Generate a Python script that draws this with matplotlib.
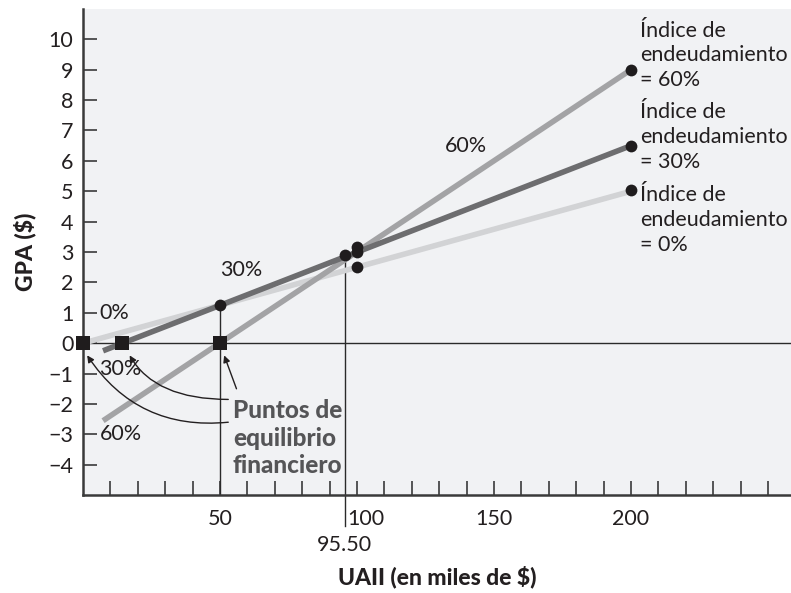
import matplotlib
matplotlib.use("Agg")
import matplotlib.pyplot as plt
import matplotlib.transforms as mtransforms

plt.rcParams['font.family'] = ['Lato', 'DejaVu Sans']

# ---- data ----
x_0 = [0, 200]
y_0 = [0, 5]
x_30 = [7.3, 200]
y_30 = [-0.25, 6.5]
x_60 = [7.3, 200]
y_60 = [-2.55, 9]

dot_x = [200, 200, 200, 50, 95.5, 100, 100, 100]
dot_y = [9, 6.5, 5.05, 1.25, 2.89, 3.15, 3.0, 2.5]

breakeven_x = [0, 14.3, 50]
breakeven_y = [0, 0, 0]

xtick_vals = list(range(10, 260, 10))
xtick_labels = {50: "50", 100: "100", 150: "150", 200: "200"}
ytick_vals = list(range(-4, 11))

ink = "#231f20"

fig = plt.figure(figsize=(7.91, 5.93), dpi=100)
ax = fig.add_axes([0.105, 0.165, 0.895, 0.82])
ax.set_facecolor("#f1f2f4")
ax.set_xlim(0, 258.4)
ax.set_ylim(-5, 11)

for s in ["top", "right"]:
    ax.spines[s].set_visible(False)
for s in ["left", "bottom"]:
    ax.spines[s].set_color("#3a3a3a")
    ax.spines[s].set_linewidth(1.8)

# zero line
ax.axhline(0, color="#2a2a2a", lw=1.0, zorder=2)

# vertical guides
ax.plot([50, 50], [1.25, -5], color="#2a2a2a", lw=1.0, zorder=2)
ax.plot([95.5, 95.5], [2.89, -6.0], color="#2a2a2a", lw=1.0, zorder=2, clip_on=False)

# lines
ax.plot(x_0, y_0, color="#d2d3d5", lw=4, solid_capstyle="butt", zorder=3)
ax.plot(x_60, y_60, color="#a3a3a5", lw=4, solid_capstyle="butt", zorder=3)
ax.plot(x_30, y_30, color="#6d6d6f", lw=4, solid_capstyle="butt", zorder=4)

ax.scatter(dot_x, dot_y, s=72, color="#1f1c1d", zorder=6, linewidths=0)
ax.scatter(breakeven_x, breakeven_y, s=95, marker="s", color="#1f1c1d", zorder=6,
           linewidths=0, clip_on=False)

fs = 15.5

# ticks
ax.set_xticks(xtick_vals)
ax.set_xticklabels([xtick_labels.get(v, "") for v in xtick_vals])
ax.set_yticks(ytick_vals)
ax.set_yticklabels([str(v).replace("-", "\u2212") for v in ytick_vals])
ax.tick_params(axis="both", direction="in", length=10, width=1.2, color="#3a3a3a",
               labelsize=fs, labelcolor=ink)
ax.tick_params(axis="x", pad=10)
ax.tick_params(axis="y", pad=7)

# shift "100" label a bit right (as in reference)
for lbl in ax.get_xticklabels():
    if lbl.get_text() == "100":
        lbl.set_transform(lbl.get_transform() +
                          mtransforms.ScaledTranslation(9 / 100, 0, fig.dpi_scale_trans))

trans = mtransforms.blended_transform_factory(ax.transData, ax.transAxes)
ax.text(95.5, -0.103, "95.50", transform=trans, ha="center", va="center",
        fontsize=fs, color=ink)

ax.set_ylabel("GPA ($)", fontsize=16.5, fontweight=900, color=ink, labelpad=9)
ax.set_xlabel("UAII (en miles de $)", fontsize=16.5, fontweight=900, color=ink,
              labelpad=26)

# inline labels
ax.text(6, 1.0, "0%", fontsize=fs, color=ink, va="center", ha="left")
ax.text(6, -0.85, "30%", fontsize=fs, color=ink, va="center", ha="left")
ax.text(6, -3.0, "60%", fontsize=fs, color=ink, va="center", ha="left")
ax.text(50, 2.4, "30%", fontsize=fs, color=ink, va="center", ha="left")
ax.text(132, 6.5, "60%", fontsize=fs, color=ink, va="center", ha="left")

ax.text(203.3, 9.47, "Índice de\nendeudamiento\n= 60%", fontsize=fs, color=ink,
        va="center", ha="left", linespacing=1.3)
ax.text(203.3, 6.78, "Índice de\nendeudamiento\n= 30%", fontsize=fs, color=ink,
        va="center", ha="left", linespacing=1.3)
ax.text(203.3, 4.05, "Índice de\nendeudamiento\n= 0%", fontsize=fs, color=ink,
        va="center", ha="left", linespacing=1.3)

ax.text(54.7, -3.12, "Puntos de\nequilibrio\nfinanciero", fontsize=17.5, color="#555557",
        fontweight=900, va="center", ha="left", linespacing=1.25)

# arrows
arrow_kw = dict(arrowstyle="-|>", color=ink, lw=1.0, mutation_scale=10)
ax.annotate("", xy=(51.5, -0.4), xytext=(56, -1.5),
            arrowprops=dict(**arrow_kw, shrinkA=0, shrinkB=0))
ax.annotate("", xy=(17, -0.4), xytext=(53, -1.85),
            arrowprops=dict(**arrow_kw, shrinkA=0, shrinkB=0,
                            connectionstyle="angle3,angleA=0,angleB=-60"))
ax.annotate("", xy=(1.5, -0.4), xytext=(53, -2.6),
            arrowprops=dict(**arrow_kw, shrinkA=0, shrinkB=0,
                            connectionstyle="arc3,rad=-0.3"))

fig.savefig("out.png", dpi=100, facecolor="white")
